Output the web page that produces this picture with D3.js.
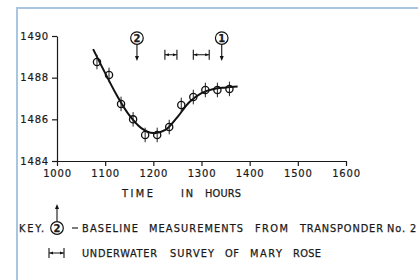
<!DOCTYPE html>
<html>
<head>
<meta charset="utf-8">
<title>Baseline measurements</title>
<script src="https://cdn.jsdelivr.net/npm/d3@7"></script>
<style>
  body { margin: 0; background: #fff; }
  .lbl { font-family: "DejaVu Sans", sans-serif; fill: #1a1a1a; stroke: #1a1a1a; stroke-width: 0.25; }
  .axis path, .axis line { stroke: #1a1a1a; stroke-width: 1.2; }
  .axis text { font-family: "DejaVu Sans", sans-serif; font-size: 10px; fill: #1a1a1a; stroke: #1a1a1a; stroke-width: 0.2; }
</style>
</head>
<body>
<div id="chart"></div>
<script>
// measured points (hours, value)
var timeHours = [1083, 1108, 1133, 1158, 1183, 1208, 1233, 1258, 1283, 1308, 1333, 1358];
var measured  = [1488.75, 1488.13, 1486.74, 1486.0, 1485.25, 1485.25, 1485.63, 1486.69, 1487.07, 1487.41, 1487.41, 1487.46];
var errSize = 0.35;

// hand drawn fitted curve
var fitTime  = [1075, 1100, 1125, 1150, 1175, 1200, 1225, 1250, 1275, 1300, 1325, 1350, 1375];
var fitValue = [1489.37, 1488.22, 1487.12, 1486.2, 1485.58, 1485.34, 1485.49, 1486.11, 1486.83, 1487.26, 1487.46, 1487.53, 1487.58];

// baseline measurement markers and survey periods
var baselineLabels = ["2", "1"];
var baselineTimes  = [1166, 1342];
var surveyStart = [1224, 1283];
var surveyEnd   = [1249, 1316];

var xTicks = [1000, 1100, 1200, 1300, 1400, 1500, 1600];
var yTicks = [1484, 1486, 1488, 1490];

var W = 418, H = 280;
var svg = d3.select("#chart").append("svg").attr("width", W).attr("height", H);

// light blue frame
svg.append("path").attr("d", "M17,282 L17,8 L420,8")
  .attr("fill", "none").attr("stroke", "#a8c6df").attr("stroke-width", 2);

var x = d3.scaleLinear().domain([1000, 1600]).range([57, 346]);
var y = d3.scaleLinear().domain([1484, 1490]).range([161, 36]);

svg.append("g").attr("class", "axis").attr("transform", "translate(0," + y(1484) + ")")
  .call(d3.axisBottom(x).tickValues(xTicks).tickFormat(d3.format("d")).tickSize(5).tickSizeOuter(0).tickPadding(4))
  .selectAll("text").attr("letter-spacing", "0.8px");

svg.append("g").attr("class", "axis").attr("transform", "translate(" + x(1000) + ",0)")
  .call(d3.axisLeft(y).tickValues(yTicks).tickFormat(d3.format("d")).tickSize(5).tickSizeOuter(0).tickPadding(3))
  .selectAll("text").attr("letter-spacing", "0.8px");

// fitted curve
var fit = fitTime.map(function(t, i) { return [t, fitValue[i]]; });
svg.append("path").datum(fit)
  .attr("d", d3.line().x(function(d) { return x(d[0]); }).y(function(d) { return y(d[1]); }).curve(d3.curveCatmullRom))
  .attr("fill", "none").attr("stroke", "#111").attr("stroke-width", 2);

// points with error bars
var pts = svg.append("g");
timeHours.forEach(function(t, i) {
  pts.append("line")
    .attr("x1", x(t)).attr("x2", x(t))
    .attr("y1", y(measured[i] + errSize)).attr("y2", y(measured[i] - errSize))
    .attr("stroke", "#222").attr("stroke-width", 1);
  pts.append("circle").attr("cx", x(t)).attr("cy", y(measured[i])).attr("r", 3.6)
    .attr("fill", "none").attr("stroke", "#111").attr("stroke-width", 1.3);
});

function circledNum(g, cx, cy, txt) {
  g.append("circle").attr("cx", cx).attr("cy", cy).attr("r", 6.3)
    .attr("fill", "#fff").attr("stroke", "#111").attr("stroke-width", 1.2);
  g.append("text").attr("class", "lbl").attr("x", cx).attr("y", cy + 3.5)
    .attr("text-anchor", "middle").attr("font-size", "10px").attr("font-weight", "bold").text(txt);
}

function arrowHead(g, px, py, dir) {
  // dir: 1 pointing down, -1 pointing up
  g.append("path").attr("d", "M" + (px - 2) + "," + (py - 5 * dir) + " L" + px + "," + py + " L" + (px + 2) + "," + (py - 5 * dir) + "Z")
    .attr("fill", "#111");
}

function spanMark(g, x1, x2, yy) {
  g.append("line").attr("x1", x1).attr("x2", x1).attr("y1", yy - 5).attr("y2", yy + 5).attr("stroke", "#111").attr("stroke-width", 1.1);
  g.append("line").attr("x1", x2).attr("x2", x2).attr("y1", yy - 5).attr("y2", yy + 5).attr("stroke", "#111").attr("stroke-width", 1.1);
  g.append("line").attr("x1", x1).attr("x2", x2).attr("y1", yy).attr("y2", yy).attr("stroke", "#111").attr("stroke-width", 1);
  g.append("path").attr("d", "M" + (x1 + 4) + "," + (yy - 1.6) + " L" + (x1 + 0.5) + "," + yy + " L" + (x1 + 4) + "," + (yy + 1.6) + "Z").attr("fill", "#111");
  g.append("path").attr("d", "M" + (x2 - 4) + "," + (yy - 1.6) + " L" + (x2 - 0.5) + "," + yy + " L" + (x2 - 4) + "," + (yy + 1.6) + "Z").attr("fill", "#111");
}

// lettering: each word stretched between its start and end
function words(g, list, yy) {
  list.forEach(function(w) {
    g.append("text").attr("class", "lbl").attr("x", w[1]).attr("y", yy)
      .attr("font-size", "9.8px").attr("textLength", w[2] - w[1]).attr("lengthAdjust", "spacing")
      .text(w[0]);
  });
}

var ann = svg.append("g");
baselineTimes.forEach(function(t, i) {
  var cx = x(t);
  ann.append("line").attr("x1", cx).attr("x2", cx).attr("y1", y(1489.9) + 6).attr("y2", y(1488.8) - 2)
    .attr("stroke", "#111").attr("stroke-width", 1.1);
  arrowHead(ann, cx, y(1488.8), 1);
  circledNum(ann, cx, y(1489.9), baselineLabels[i]);
});
surveyStart.forEach(function(t, i) {
  spanMark(ann, x(t), x(surveyEnd[i]), y(1489.1));
});

// axis title
words(svg, [["TIME", 122, 153], ["IN", 181, 193], ["HOURS", 205, 241]], 196.5);

// key
var key = svg.append("g");
words(key, [["KEY.", 19, 44]], 231.5);
key.append("line").attr("x1", 57).attr("x2", 57).attr("y1", 221).attr("y2", 208).attr("stroke", "#111").attr("stroke-width", 1.1);
arrowHead(key, 57, 204, -1);
circledNum(key, 57, 228, "2");
key.append("line").attr("x1", 72).attr("x2", 78).attr("y1", 228).attr("y2", 228).attr("stroke", "#111").attr("stroke-width", 1.1);
words(key, [["BASELINE", 82, 138], ["MEASUREMENTS", 149, 243], ["FROM", 255, 288],
            ["TRANSPONDER", 300, 383], ["No.", 387, 405], ["2", 410, 416]], 231.5);
spanMark(key, 49, 64, 253);
words(key, [["UNDERWATER", 82, 157], ["SURVEY", 170, 214], ["OF", 225, 239],
            ["MARY", 250, 282], ["ROSE", 293, 321]], 256.5);
</script>
</body>
</html>
